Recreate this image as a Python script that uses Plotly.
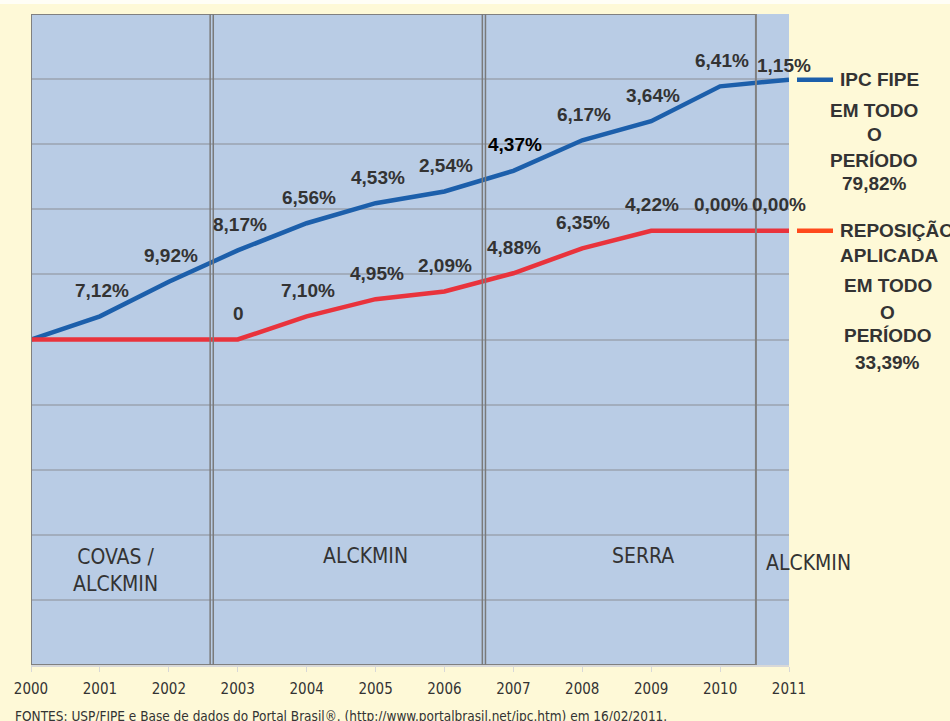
import plotly.graph_objects as go

# ---- data ----
years = [2000, 2001, 2002, 2003, 2004, 2005, 2006, 2007, 2008, 2009, 2010, 2011]
ipc_index = [100.0, 107.12, 117.75, 127.37, 135.72, 141.87, 145.47, 151.83, 161.20, 167.07, 177.78, 179.82]
rep_index = [100.0, 100.0, 100.0, 100.0, 107.10, 112.40, 114.75, 120.35, 128.00, 133.40, 133.40, 133.40]
ipc_labels = ["", "7,12%", "9,92%", "8,17%", "6,56%", "4,53%", "2,54%", "4,37%", "6,17%", "3,64%", "6,41%", "1,15%"]
rep_labels = ["", "", "", "0", "7,10%", "4,95%", "2,09%", "4,88%", "6,35%", "4,22%", "0,00%", "0,00%"]
periods = ["COVAS /<br>ALCKMIN", "ALCKMIN", "SERRA", "ALCKMIN"]
period_px = [115, 365, 643, 808]
period_py = [570, 556, 556, 563]
period_bounds = [2002.6, 2006.55, 2010.52]
ipc_total = "79,82%"
rep_total = "33,39%"
source = "FONTES: USP/FIPE e Base de dados do Portal Brasil®. (http://www.portalbrasil.net/ipc.htm) em 16/02/2011."

BLUE = "#1C5FAB"
RED = "#E9333C"
RED_LEG = "#FF4A1C"
TXT = "#333333"
BOLD = "Liberation Sans, Arial, sans-serif"
NARROW = "Liberation Sans Narrow, Arial Narrow, DejaVu Sans Condensed, sans-serif"
FS = 19

fig = go.Figure()
fig.add_trace(go.Scatter(x=years, y=ipc_index, mode="lines", line=dict(color=BLUE, width=4.5),
                         showlegend=False, hoverinfo="skip"))
fig.add_trace(go.Scatter(x=years, y=rep_index, mode="lines", line=dict(color=RED, width=4.5),
                         showlegend=False, hoverinfo="skip"))

ann = []
for i, (x, y, t) in enumerate(zip(years, ipc_index, ipc_labels)):
    if not t:
        continue
    xs = -5 if i == len(years) - 1 else 2
    ys = 14 if i == len(years) - 1 else 26
    ann.append(dict(x=x, y=y, text="<b>%s</b>" % t, showarrow=False, xshift=xs, yshift=ys,
                    font=dict(family=BOLD, size=FS, color="#000000" if t == "4,37%" else TXT)))
for i, (x, y, t) in enumerate(zip(years, rep_index, rep_labels)):
    if not t:
        continue
    xs = -10 if i == len(years) - 1 else 1
    ann.append(dict(x=x, y=y, text="<b>%s</b>" % t, showarrow=False, xshift=xs, yshift=26,
                    font=dict(family=BOLD, size=FS, color=TXT)))


def L(px):
    return (px - 31) / 758.0


def T(py):
    return (665 - py) / 651.0


# period names
for t, px, py in zip(periods, period_px, period_py):
    ann.append(dict(xref="paper", yref="paper", x=L(px), y=T(py), xanchor="center", yanchor="middle",
                    text=t, showarrow=False, font=dict(family=NARROW, size=21, color=TXT)))

# manual legend
ann.append(dict(xref="paper", yref="y", x=L(838), y=ipc_index[-1], xanchor="left", yanchor="middle",
                text="<b>IPC FIPE</b>", showarrow=False, font=dict(family=BOLD, size=FS, color=TXT)))
for t, py in [("EM TODO", 110), ("O", 134), ("PERÍODO", 160), (ipc_total, 183)]:
    ann.append(dict(xref="paper", yref="paper", x=L(874), y=T(py), xanchor="center", yanchor="middle",
                    text="<b>%s</b>" % t, showarrow=False, font=dict(family=BOLD, size=FS, color=TXT)))
ann.append(dict(xref="paper", yref="y", x=L(838), y=rep_index[-1], xanchor="left", yanchor="middle",
                text="<b>REPOSIÇÃO</b>", showarrow=False, font=dict(family=BOLD, size=FS, color=TXT)))
ann.append(dict(xref="paper", yref="paper", x=L(838), y=T(255), xanchor="left", yanchor="middle",
                text="<b>APLICADA</b>", showarrow=False, font=dict(family=BOLD, size=FS, color=TXT)))
for t, py in [("EM TODO", 285), ("O", 312), ("PERÍODO", 335), (rep_total, 362)]:
    ann.append(dict(xref="paper", yref="paper", x=L(888), y=T(py), xanchor="center", yanchor="middle",
                    text="<b>%s</b>" % t, showarrow=False, font=dict(family=BOLD, size=FS, color=TXT)))

ann.append(dict(xref="paper", yref="paper", x=L(13), y=T(716), xanchor="left", yanchor="middle",
                text=source, showarrow=False, font=dict(family=NARROW, size=13.5, color=TXT)))

shapes = []
# top white strip
shapes.append(dict(type="rect", xref="paper", yref="paper", x0=-0.1, x1=1.3, y0=T(4), y1=T(-2),
                   fillcolor="#FFFEF6", line=dict(width=0), layer="below"))
# frame box
shapes.append(dict(type="rect", xref="x", yref="y", x0=years[0], x1=period_bounds[-1], y0=0, y1=200,
                   line=dict(color="#808080", width=2), layer="above"))
for b in period_bounds[:-1]:
    for d in (0.0, 0.045):
        shapes.append(dict(type="line", xref="x", yref="y", x0=b + d, x1=b + d, y0=0, y1=200,
                           line=dict(color="#7A7A7A", width=1.5)))
# legend lines
shapes.append(dict(type="line", xref="paper", yref="y", x0=L(797), x1=L(833), y0=ipc_index[-1], y1=ipc_index[-1],
                   line=dict(color=BLUE, width=4.5)))
shapes.append(dict(type="line", xref="paper", yref="y", x0=L(797), x1=L(833), y0=rep_index[-1], y1=rep_index[-1],
                   line=dict(color=RED_LEG, width=4.5)))

fig.update_layout(
    width=950, height=721,
    margin=dict(l=31, r=161, t=14, b=56),
    paper_bgcolor="#FEF9D7",
    plot_bgcolor="#B9CCE5",
    annotations=ann,
    shapes=shapes,
    xaxis=dict(range=[2000, 2011], tickmode="array", tickvals=years, ticktext=[str(y) for y in years],
               showgrid=False, zeroline=False, showline=True, linecolor="#D8D8D8", linewidth=2,
               ticks="outside", ticklen=5, tickcolor="#D8D8D8",
               tickfont=dict(family=NARROW, size=15, color=TXT), ticklabelstandoff=4),
    yaxis=dict(range=[0, 200], dtick=20, showticklabels=False, showgrid=True, gridcolor="#A2ADBD",
               gridwidth=1.5, zeroline=False, showline=False),
)

fig.write_html("out.html", config={"displayModeBar": False},
               post_script="document.body.style.margin='0';document.body.style.overflow='hidden';")
